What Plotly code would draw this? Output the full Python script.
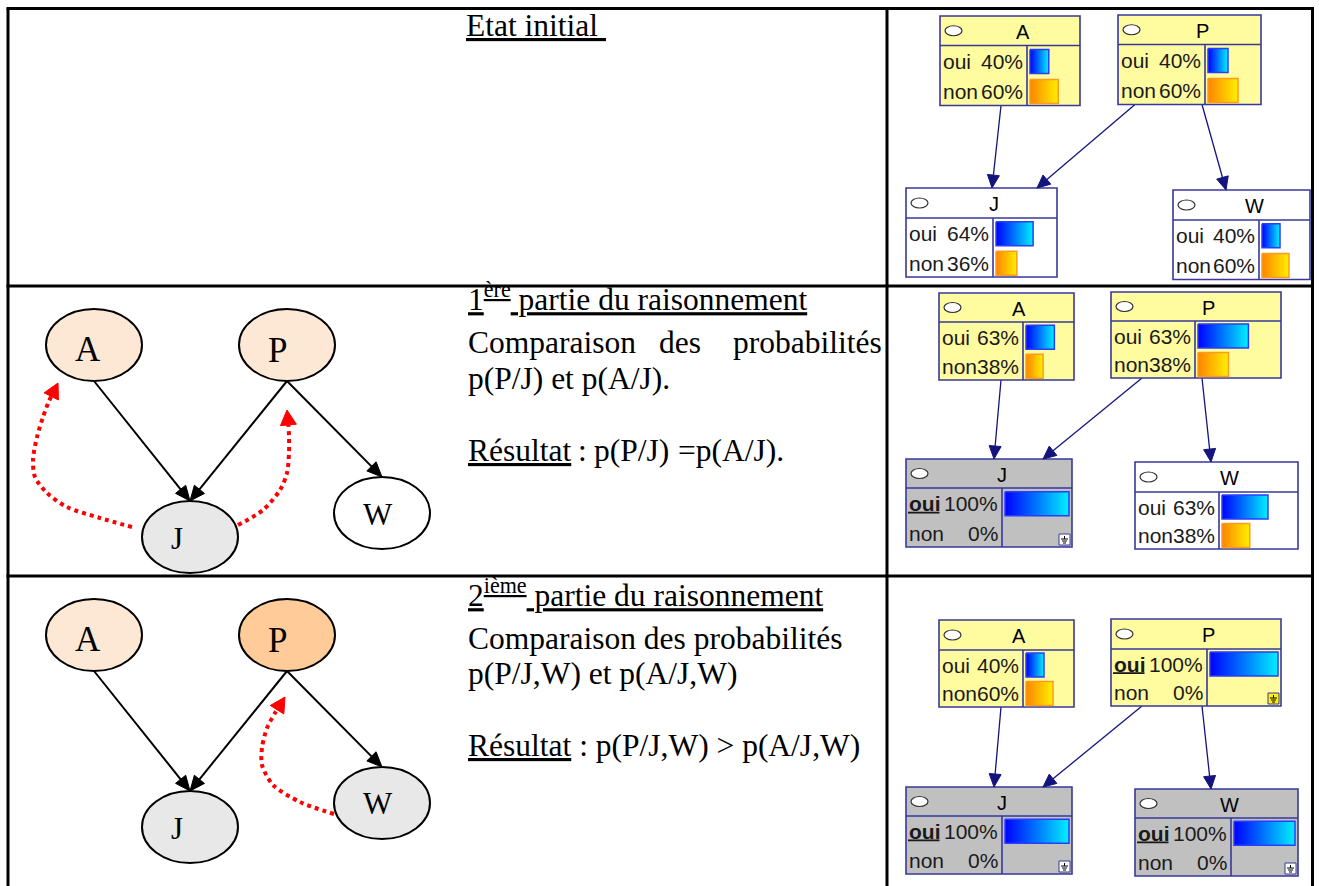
import math
import plotly.graph_objects as go

# ============================ DATA ============================
node_names = ["A", "P", "J", "W"]
state_labels = ["oui", "non"]
edge_src = ["A", "P", "P"]
edge_dst = ["J", "J", "W"]
root_nodes = ["A", "P"]

# Netica belief panels (percent), order follows node_names
initial_oui = [40, 40, 64, 40]
initial_non = [60, 60, 36, 60]
part1_oui = [63, 63, 100, 63]
part1_non = [38, 38, 0, 38]
part2_oui = [40, 100, 100, 100]
part2_non = [60, 0, 0, 0]
initial_evidence = []
part1_evidence = ["J"]
part2_evidence = ["P", "J", "W"]

# text column
heading_texts = ["Etat initial\u00a0",
                 "1<sup>ère</sup> partie du raisonnement",
                 "2<sup>ième</sup> partie du raisonnement"]
comparison_words = ["Comparaison", "des", "probabilités"]
comparison_line = "Comparaison des probabilités"
compared_terms = ["p(P/J) et p(A/J).", "p(P/J,W) et p(A/J,W)"]
result_word = "Résultat"
result1_parts = [":", "p(P/J)", "=p(A/J)."]
result2_text = " : p(P/J,W) &gt; p(A/J,W)"

# reasoning diagrams (rows 2 and 3)
diag_nodes = ["A", "P", "J", "W"]
diag1_observed = ["J"]
diag2_observed = ["J", "W"]
diag2_selected = ["P"]
diag_queried = ["A", "P"]
diag1_reasoning = [("J", "A"), ("J", "P")]
diag2_reasoning = [("W", "P")]

# ========================= GEOMETRY / STYLE =========================
W_PX, H_PX = 1319, 886
TABLE_XS = [8, 887, 1312.5]
TABLE_YS = [8.5, 286, 576]

NETICA_GEOM = [
    {"A": (940, 1080, 16, 45.5, 105.5, 1027), "P": (1118, 1261, 15, 44.5, 104.5, 1205),
     "J": (906, 1057, 188, 218, 277, 993), "W": (1173, 1310, 190, 220, 279.5, 1259)},
    {"A": (939, 1074, 293, 322, 380, 1023), "P": (1111, 1281, 292, 321, 378, 1195),
     "J": (906, 1072, 459, 488, 547, 1002), "W": (1135, 1298, 462, 492, 549, 1219)},
    {"A": (939, 1074, 620, 650, 707, 1023), "P": (1111, 1281, 619, 649, 706, 1207),
     "J": (906, 1072, 787, 816, 874, 1002), "W": (1135, 1298, 789, 818, 876, 1231)},
]
NETICA_EDGE_X = [
    [(1001, 992), (1135, 1037), (1202, 1226)],
    [(1001, 994), (1142, 1043), (1202, 1211)],
    [(1001, 994), (1142, 1043), (1202, 1211)],
]

DIAG_CENTERS = [
    {"A": (94, 345), "P": (287, 345), "J": (190, 537), "W": (382, 513)},
    {"A": (94, 635), "P": (287, 635), "J": (190, 827), "W": (382, 803)},
]
DIAG_LABEL_POS = [
    {"A": (88, 349.5), "P": (277, 350), "J": (177, 538), "W": (378, 514.5)},
    {"A": (88, 639.5), "P": (277, 640.5), "J": (177, 828), "W": (378, 803.5)},
]
ELL_RX, ELL_RY = 48, 36
RED_PATHS = [
    [[(132, 527), (100, 518), (67, 507), (47, 493), (35, 477), (33, 460), (37, 437), (43, 417), (49, 401)],
     [(238, 525), (263, 510), (280, 490), (287, 473), (289, 453), (289, 436), (288.5, 426)]],
    [[(334, 814), (300, 802), (273, 785), (262, 765), (262, 748), (267, 728), (275, 713)]],
]
RED_TIPS = [[(58, 383), (287, 410)], [(285, 697)]]

YELLOW = "#FFFB9F"
GRAY = "#C0C0C0"
BORDER = "#38389A"
NAVY = "#14147E"
PEACH_LIGHT = "#FCE8D4"
PEACH = "#FFCC99"
DIAG_GRAY = "#E8E8E8"

SERIF = "Liberation Serif, Times New Roman, serif"
SANS = "Liberation Sans, Arial, sans-serif"
BODY_FS = 21

shapes = []
annotations = []
traces = []


def add_line(x0, y0, x1, y1, color, width, layer="below", dash=None):
    ln = dict(color=color, width=width)
    if dash:
        ln["dash"] = dash
    shapes.append(dict(type="line", x0=x0, y0=y0, x1=x1, y1=y1, line=ln, layer=layer))


def arrow_head(tip, frm, length, half, color):
    dx, dy = tip[0] - frm[0], tip[1] - frm[1]
    n = math.hypot(dx, dy)
    ux, uy = dx / n, dy / n
    bx, by = tip[0] - ux * length, tip[1] - uy * length
    px, py = -uy, ux
    traces.append(go.Scatter(
        x=[tip[0], bx + px * half, bx - px * half, tip[0]],
        y=[tip[1], by + py * half, by - py * half, tip[1]],
        mode="lines", fill="toself", fillcolor=color,
        line=dict(color=color, width=1), hoverinfo="skip"))
    return bx, by


def text(x, y, s, size, family, xanchor="left", yanchor="middle", color="black", weight="normal"):
    annotations.append(dict(x=x, y=y, xref="x", yref="y", text=s, showarrow=False,
                            xanchor=xanchor, yanchor=yanchor, borderpad=0,
                            font=dict(size=size, family=family, color=color, weight=weight)))


# ---------------- Netica panels ----------------
panels = [
    (initial_oui, initial_non, initial_evidence),
    (part1_oui, part1_non, part1_evidence),
    (part2_oui, part2_non, part2_evidence),
]
for pi, (oui_vals, non_vals, evidence) in enumerate(panels):
    geom = NETICA_GEOM[pi]
    for ei, (s, d) in enumerate(zip(edge_src, edge_dst)):
        xs, xe = NETICA_EDGE_X[pi][ei]
        ys = geom[s][4]
        ye = geom[d][2]
        bx, by = arrow_head((xe, ye), (xs, ys), 13, 6, NAVY)
        add_line(xs, ys, bx, by, NAVY, 1.3)
    for ni, name in enumerate(node_names):
        x0, x1, y0, yh, y1, xd = geom[name]
        observed = name in evidence
        if name in root_nodes:
            fill = YELLOW
        elif observed:
            fill = GRAY
        else:
            fill = "white"
        shapes.append(dict(type="rect", x0=x0, y0=y0, x1=x1, y1=y1, fillcolor=fill,
                           line=dict(color=BORDER, width=1.6), layer="below"))
        add_line(x0, yh, x1, yh, BORDER, 1.6)
        add_line(xd, yh, xd, y1, BORDER, 1.6)
        yc = (y0 + yh) / 2
        shapes.append(dict(type="circle", x0=x0 + 5, x1=x0 + 22, y0=yc - 5, y1=yc + 5,
                           fillcolor="white", line=dict(color="#333333", width=1.2), layer="below"))
        text((x0 + 25 + x1) / 2, yc + 1, name, 20, SANS, xanchor="center")
        h = y1 - yh
        full = (x1 - xd) - 6
        row_c = [yh + 0.265 * h, yh + 0.765 * h]
        vals = [oui_vals[ni], non_vals[ni]]
        scales = [[[0, "#0000FF"], [1, "#00F0FF"]], [[0, "#FF8400"], [1, "#FFF000"]]]
        edge_cols = ["#2A3CFF", "#FF9A20"]
        for si, lab in enumerate(state_labels):
            is_obs = observed and si == 0
            if is_obs:
                # underline of the observed state (bold "oui" ≈ 1.5 em wide)
                add_line(x0 + 2, row_c[si] + 9, x0 + 2 + 1.5 * BODY_FS, row_c[si] + 9,
                         "#1A1A1A", 1.8, layer="above")
            text(x0 + 2, row_c[si], lab, BODY_FS, SANS, color="#1A1A1A",
                 weight=("bold" if is_obs else "normal"))
            text(xd - 3, row_c[si], "%d%%" % vals[si], BODY_FS, SANS, xanchor="right", color="#1A1A1A")
            if vals[si] > 0:
                bl = xd + 3
                br = bl + full * vals[si] / 100.0
                bt, bb = row_c[si] - 12, row_c[si] + 12
                traces.append(go.Scatter(
                    x=[bl, br, br, bl, bl], y=[bt, bt, bb, bb, bt], mode="lines",
                    fill="toself",
                    fillgradient=dict(type="horizontal", colorscale=scales[si]),
                    line=dict(color=edge_cols[si], width=1.5), hoverinfo="skip"))
        if observed:
            ix0, ix1, iy0, iy1 = x1 - 13, x1 - 2, y1 - 13, y1 - 2
            shapes.append(dict(type="rect", x0=ix0, x1=ix1, y0=iy0, y1=iy1,
                               fillcolor=("#FFF200" if name in root_nodes else "white"),
                               line=dict(color=BORDER, width=1), layer="below"))
            cx = (ix0 + ix1) / 2
            add_line(cx, iy0 + 2, cx, iy0 + 5, "black", 1)
            add_line(cx - 3.5, iy0 + 5, cx + 3.5, iy0 + 5, "black", 1)
            add_line(cx - 2.5, iy0 + 7, cx + 2.5, iy0 + 7, "black", 1)
            add_line(cx - 1.5, iy0 + 9, cx + 1.5, iy0 + 9, "black", 1)

# ---------------- reasoning diagrams ----------------
diag_sets = [(diag1_observed, [], diag1_reasoning), (diag2_observed, diag2_selected, diag2_reasoning)]
for di, (obs, sel, reasoning) in enumerate(diag_sets):
    cen = DIAG_CENTERS[di]
    for s, d in zip(edge_src, edge_dst):
        sx, sy = cen[s][0], cen[s][1] + ELL_RY
        ex, ey = cen[d][0], cen[d][1] - ELL_RY
        bx, by = arrow_head((ex, ey), (sx, sy), 15, 6.5, "black")
        add_line(sx, sy, bx, by, "black", 2)
    for name in diag_nodes:
        cx, cy = cen[name]
        if name in sel:
            fill = PEACH
        elif name in diag_queried:
            fill = PEACH_LIGHT
        elif name in obs:
            fill = DIAG_GRAY
        else:
            fill = "white"
        shapes.append(dict(type="circle", x0=cx - ELL_RX, x1=cx + ELL_RX, y0=cy - ELL_RY, y1=cy + ELL_RY,
                           fillcolor=fill, line=dict(color="black", width=2), layer="below"))
        lx, ly = DIAG_LABEL_POS[di][name]
        size = 35 if name in diag_queried else 31
        text(lx, ly, name, size, SERIF, xanchor="center")
    for ri, _pair in enumerate(reasoning):
        path = RED_PATHS[di][ri]
        tip = RED_TIPS[di][ri]
        bx, by = arrow_head(tip, path[-1], 15, 8, "#FF0000")
        xs = [p[0] for p in path] + [bx]
        ys = [p[1] for p in path] + [by]
        traces.append(go.Scatter(x=xs, y=ys, mode="lines",
                                 line=dict(color="#FF0000", width=4, dash="dot", shape="spline", smoothing=0.8),
                                 hoverinfo="skip"))

# ---------------- text column ----------------
FS = 31.5
def baseline_y(b):
    return b + 0.216 * FS + 0.5

text(465, baseline_y(36.7), "<u>" + heading_texts[0] + "</u>", FS, SERIF, yanchor="bottom")
# row 2
text(466.5, baseline_y(310.7), "<u>" + heading_texts[1] + "</u>", FS, SERIF, yanchor="bottom")
text(466.5, baseline_y(354), comparison_words[0], FS, SERIF, yanchor="bottom")
text(658, baseline_y(354), comparison_words[1], FS, SERIF, yanchor="bottom")
text(883, baseline_y(354), comparison_words[2], FS, SERIF, xanchor="right", yanchor="bottom")
text(466.5, baseline_y(390), compared_terms[0], FS, SERIF, yanchor="bottom")
text(466.5, baseline_y(461.7), "<u>" + result_word + "</u>", FS, SERIF, yanchor="bottom")
text(577, baseline_y(461.7), result1_parts[0], FS, SERIF, yanchor="bottom")
text(593, baseline_y(461.7), result1_parts[1], FS, SERIF, yanchor="bottom")
text(677, baseline_y(461.7), result1_parts[2], FS, SERIF, yanchor="bottom")
# row 3
text(466.5, baseline_y(606.3), "<u>" + heading_texts[2] + "</u>", FS, SERIF, yanchor="bottom")
text(466.5, baseline_y(649.7), comparison_line, FS, SERIF, yanchor="bottom")
text(466.5, baseline_y(684.7), compared_terms[1], FS, SERIF, yanchor="bottom")
text(466.5, baseline_y(756.3), "<u>" + result_word + "</u>" + result2_text, FS, SERIF, yanchor="bottom")

# ---------------- table borders ----------------
add_line(TABLE_XS[0] - 1.5, TABLE_YS[0], TABLE_XS[2] + 1.5, TABLE_YS[0], "black", 3, layer="above")
add_line(TABLE_XS[0] - 1.5, TABLE_YS[1], TABLE_XS[2] + 1.5, TABLE_YS[1], "black", 3, layer="above")
add_line(TABLE_XS[0] - 1.5, TABLE_YS[2], TABLE_XS[2] + 1.5, TABLE_YS[2], "black", 3, layer="above")
for xv in TABLE_XS:
    add_line(xv, TABLE_YS[0], xv, H_PX + 5, "black", 3, layer="above")

fig = go.Figure(data=traces)
fig.update_layout(
    width=W_PX, height=H_PX,
    margin=dict(l=0, r=0, t=0, b=0, pad=0),
    paper_bgcolor="white", plot_bgcolor="white",
    xaxis=dict(range=[0, W_PX], visible=False, fixedrange=True),
    yaxis=dict(range=[H_PX, 0], visible=False, fixedrange=True),
    showlegend=False, hovermode=False,
    shapes=shapes, annotations=annotations,
)
fig.write_html("out.html", config={"displayModeBar": False, "staticPlot": True},
               post_script="document.body.style.margin='0px';document.body.style.overflow='hidden';")
